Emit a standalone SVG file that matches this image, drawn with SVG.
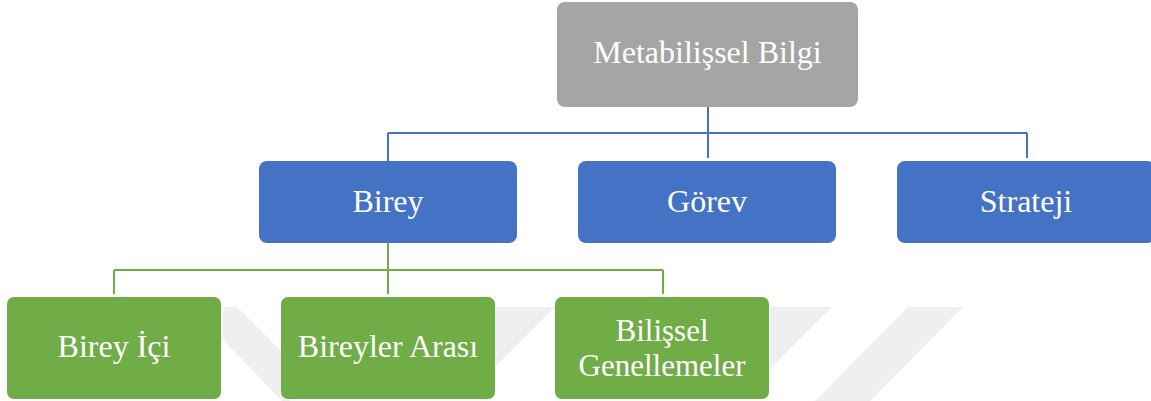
<svg xmlns="http://www.w3.org/2000/svg" width="1151" height="401" viewBox="0 0 1151 401">
  <style>
    .mark { fill: #efefef; }
    .box-top { fill: #a5a5a5; }
    .box-mid { fill: #4472c4; }
    .box-low { fill: #70ad47; }
    .label { fill: #ffffff; font-family: "Liberation Serif", "Times New Roman", serif; font-size: 32px; text-anchor: middle; }
    .label.two-line { font-size: 31px; }
    .link-mid { fill: none; stroke: #4472c4; stroke-width: 2; }
    .link-low { fill: none; stroke: #70ad47; stroke-width: 2; }
  </style>
  <rect width="1151" height="401" fill="#ffffff"/>

  <!-- faint background watermark -->
  <g id="watermark">
    <polygon class="mark" points="223,307 237,307 290,360 290,401 282,401 223,340"/>
    <polygon class="mark" points="490,307 555,307 490,372"/>
    <polygon class="mark" points="770,307 832,307 770,369"/>
    <polygon class="mark" points="908,307 963,307 870,401 815,401"/>
  </g>

  <!-- connectors -->
  <g id="connectors">
    <path class="link-mid" d="M708,106 V158 M388,133 H1027 M388,133 V161 M1027,133 V158"/>
    <path class="link-low" d="M388,243 V294 M114,270 H663 M114,270 V294 M663,270 V294"/>
  </g>

  <g id="metabilissel-bilgi">
    <rect class="box-top" x="557" y="2" width="301" height="105" rx="8"/>
    <text class="label" x="707.5" y="63">Metabilişsel Bilgi</text>
  </g>

  <g id="birey">
    <rect class="box-mid" x="259" y="161" width="258" height="82" rx="8"/>
    <text class="label" x="388" y="212">Birey</text>
  </g>
  <g id="gorev">
    <rect class="box-mid" x="578" y="161" width="258" height="82" rx="8"/>
    <text class="label" x="707" y="212">Görev</text>
  </g>
  <g id="strateji">
    <rect class="box-mid" x="897" y="161" width="258" height="82" rx="8"/>
    <text class="label" x="1026" y="212">Strateji</text>
  </g>

  <g id="birey-ici">
    <rect class="box-low" x="7" y="297" width="214" height="102" rx="7"/>
    <text class="label" x="114" y="357">Birey İçi</text>
  </g>
  <g id="bireyler-arasi">
    <rect class="box-low" x="281" y="297" width="214" height="102" rx="7"/>
    <text class="label" x="388" y="357">Bireyler Arası</text>
  </g>
  <g id="bilissel-genellemeler">
    <rect class="box-low" x="555" y="297" width="214" height="102" rx="7"/>
    <text class="label two-line" x="662" y="341">Bilişsel</text>
    <text class="label two-line" x="662" y="376">Genellemeler</text>
  </g>
</svg>
